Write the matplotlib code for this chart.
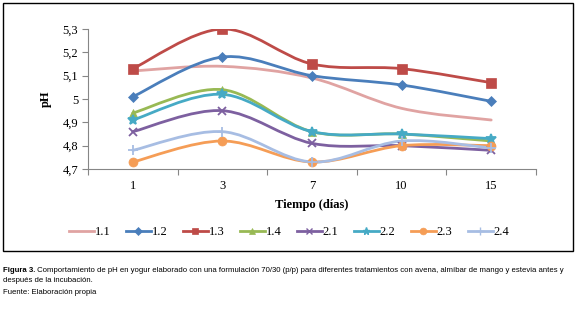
import matplotlib
matplotlib.use("Agg")
import matplotlib.pyplot as plt
import numpy as np
from matplotlib.path import Path
from matplotlib.patches import PathPatch, Rectangle
from matplotlib.lines import Line2D

days = ["1", "3", "7", "10", "15"]
series_names = ["1.1", "1.2", "1.3", "1.4", "2.1", "2.2", "2.3", "2.4"]
v11 = [5.12, 5.14, 5.09, 4.96, 4.91]
v12 = [5.01, 5.18, 5.10, 5.06, 4.99]
v13 = [5.13, 5.30, 5.15, 5.13, 5.07]
v14 = [4.94, 5.04, 4.86, 4.85, 4.82]
v21 = [4.86, 4.95, 4.81, 4.80, 4.78]
v22 = [4.91, 5.02, 4.86, 4.85, 4.83]
v23 = [4.73, 4.82, 4.73, 4.80, 4.80]
v24 = [4.78, 4.86, 4.73, 4.82, 4.79]
values = [v11, v12, v13, v14, v21, v22, v23, v24]
yticks = [4.7, 4.8, 4.9, 5.0, 5.1, 5.2, 5.3]
ytick_labels = ["4,7", "4,8", "4,9", "5", "5,1", "5,2", "5,3"]

colors = ["#E0A3A2", "#4A7EBB", "#BE4B48", "#98B954", "#7D60A0", "#46AAC5", "#F59D56", "#A7BDE3"]
markers = [None, "D", "s", "^", "x", "*", "o", "+"]
msizes = [0, 5, 6.5, 6, 6, 7, 6.5, 7]

serif = "Liberation Serif"

fig = plt.figure(figsize=(5.78, 3.11), dpi=100)
ax = fig.add_axes([88/578, 1-169/311, (536-88)/578, (169-29)/311])

def smooth_path(xs, ys):
    xs = np.asarray(xs, float); ys = np.asarray(ys, float)
    n = len(xs)
    verts = [(xs[0], ys[0])]
    codes = [Path.MOVETO]
    for i in range(n - 1):
        p0 = (xs[max(i-1, 0)], ys[max(i-1, 0)])
        p1 = (xs[i], ys[i]); p2 = (xs[i+1], ys[i+1])
        p3 = (xs[min(i+2, n-1)], ys[min(i+2, n-1)])
        c1 = (p1[0] + (p2[0]-p0[0])/6, p1[1] + (p2[1]-p0[1])/6)
        c2 = (p2[0] - (p3[0]-p1[0])/6, p2[1] - (p3[1]-p1[1])/6)
        verts += [c1, c2, p2]
        codes += [Path.CURVE4]*3
    return Path(verts, codes)

x = np.arange(len(days))
handles = []
for name, vals, c, m, ms in zip(series_names, values, colors, markers, msizes):
    patch = PathPatch(smooth_path(x, vals), facecolor="none", edgecolor=c, lw=2.0, zorder=2, capstyle="round")
    ax.add_patch(patch)
    if m:
        mew = 1.3 if m in ("x", "+", "*") else 0.5
        ax.plot(x, vals, linestyle="none", marker=m, color=c, ms=ms, mew=mew, zorder=3)
    handles.append(Line2D([], [], color=c, lw=2.0, marker=m if m else None, ms=ms*0.75,
                          mew=1.0 if m in ("x", "+", "*") else 0.5))

ax.set_xlim(-0.5, len(days) - 0.5)
ax.set_ylim(4.7, 5.3)
ax.set_yticks(yticks)
ax.set_yticklabels(ytick_labels, family=serif, fontsize=9)
ax.set_xticks(x)
ax.set_xticklabels(days, family=serif, fontsize=9)
ax.set_xticks(np.arange(-0.5, len(days)), minor=True)
ax.tick_params(axis="x", which="major", length=0, pad=8)
ax.tick_params(axis="x", which="minor", length=4, color="#868686", width=0.8)
ax.tick_params(axis="y", length=4, color="#868686", width=0.8, pad=3)
for s in ["top", "right"]:
    ax.spines[s].set_visible(False)
for s in ["left", "bottom"]:
    ax.spines[s].set_color("#868686")
    ax.spines[s].set_linewidth(0.8)
ax.set_xlabel("Tiempo (días)", family=serif, fontsize=9, fontweight="bold", labelpad=5)
ax.set_ylabel("pH", family=serif, fontsize=9, fontweight="bold", labelpad=8)

fig.legend(handles, series_names, loc="center", bbox_to_anchor=(0.5, 1-232/311), ncol=8,
           frameon=False, prop={"family": serif, "size": 9}, handlelength=2.0,
           handletextpad=0.1, columnspacing=1.2)

fig.patches.append(Rectangle((3/578, 1-251/311), 570/578, 248/311, transform=fig.transFigure,
                             fill=False, edgecolor="black", lw=1.0))

cap_font = "Liberation Sans"
cap_size = 5.6
t1 = fig.text(3/578, 1-271/311, "Figura 3.", family=cap_font, fontsize=cap_size, fontweight="bold", va="center")
ax.annotate(" Comportamiento de pH en yogur elaborado con una formulación 70/30 (p/p) para diferentes tratamientos con avena, almíbar de mango y estevia antes y",
            xy=(1, 0.5), xycoords=t1, va="center", ha="left", family=cap_font, fontsize=cap_size, annotation_clip=False)
fig.text(3/578, 1-281/311, "después de la incubación.", family=cap_font, fontsize=cap_size, va="center")
fig.text(3/578, 1-292/311, "Fuente: Elaboración propia", family=cap_font, fontsize=cap_size, va="center")

fig.savefig("out.png", dpi=100)
